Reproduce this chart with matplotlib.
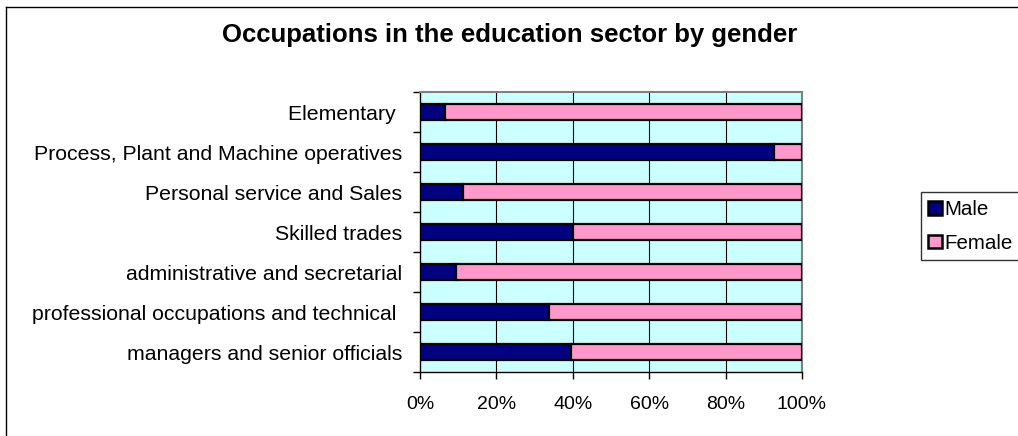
import matplotlib
matplotlib.use("Agg")
import matplotlib.pyplot as plt
from matplotlib.lines import Line2D
from matplotlib.patches import Patch
from matplotlib.ticker import FixedLocator, PercentFormatter
import numpy as np

plt.rcParams['font.family'] = ['Liberation Sans', 'DejaVu Sans']

categories = [
    "managers and senior officials",
    "professional occupations and technical ",
    "administrative and secretarial",
    "Skilled trades",
    "Personal service and Sales",
    "Process, Plant and Machine operatives",
    "Elementary ",
]
male_pct = [39.4, 33.7, 9.4, 40.0, 11.3, 92.7, 6.6]
female_pct = [100 - m for m in male_pct]
x_ticks = [0, 20, 40, 60, 80, 100]

W, H = 1018, 436
fig = plt.figure(figsize=(W / 100, H / 100), dpi=100)
fig.patch.set_facecolor("white")

ax = fig.add_axes([420 / W, (H - 372) / H, 382 / W, 280 / H])
ax.set_facecolor("#CCFFFF")

y = np.arange(len(categories))
bar_h = 0.42
ax.barh(y, male_pct, height=bar_h, color="#000080", edgecolor="black",
        linewidth=1.6, label="Male", zorder=3)
ax.barh(y, female_pct, left=male_pct, height=bar_h, color="#FF99CC",
        edgecolor="black", linewidth=1.6, label="Female", zorder=3)

ax.set_xlim(0, 100)
ax.set_ylim(-0.5, len(categories) - 0.5)

# vertical gridlines
for t in x_ticks[1:-1]:
    ax.axvline(t, color="black", linewidth=0.8, zorder=1)

ax.xaxis.set_major_locator(FixedLocator(x_ticks))
ax.xaxis.set_major_formatter(PercentFormatter(decimals=0))
ax.yaxis.set_major_locator(FixedLocator(y))
ax.set_yticklabels(categories)
ax.yaxis.set_minor_locator(FixedLocator(np.arange(-0.5, len(categories), 1.0)))

ax.tick_params(axis="y", which="major", length=0, pad=13, labelsize=15.3)
ax.tick_params(axis="y", which="minor", length=5, width=1, direction="out")
ax.tick_params(axis="x", length=5, width=1, direction="out", pad=12, labelsize=14)

for side in ("left", "bottom"):
    ax.spines[side].set_color("black")
    ax.spines[side].set_linewidth(1.0)
for side in ("top", "right"):
    ax.spines[side].set_color("#808080")
    ax.spines[side].set_linewidth(1.5)

fig.text(510 / W, 1 - 35 / H, "Occupations in the education sector by gender",
         ha="center", va="center", fontsize=18.5, fontweight="bold")

handles = [Patch(facecolor="#000080", edgecolor="black", linewidth=1.8, label="Male"),
           Patch(facecolor="#FF99CC", edgecolor="black", linewidth=1.8, label="Female")]
leg = fig.legend(handles=handles, loc="upper left",
                 bbox_to_anchor=(920.5 / W, 1 - 192.5 / H),
                 frameon=True, fancybox=False, edgecolor="black",
                 fontsize=14.8, handlelength=0.7, handleheight=0.65,
                 handletextpad=0.12, borderpad=0.36, labelspacing=0.72,
                 borderaxespad=0)
leg.get_frame().set_linewidth(1.0)

# chart outline
fig.add_artist(Line2D([5.5 / W, 5.5 / W], [0, 1 - 7 / H], color="black", linewidth=1.0))
fig.add_artist(Line2D([5.5 / W, 1], [1 - 7 / H, 1 - 7 / H], color="black", linewidth=1.0))

fig.savefig("out.png", dpi=100)
